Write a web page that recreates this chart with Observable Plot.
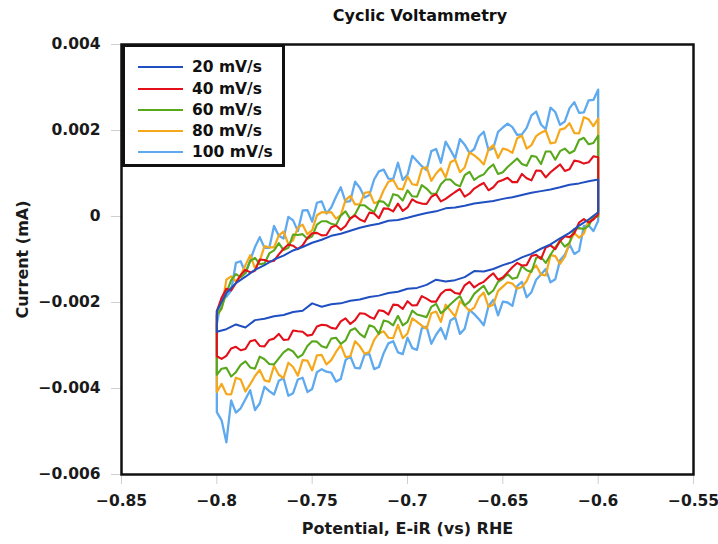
<!DOCTYPE html>
<html><head><meta charset="utf-8">
<script src="https://cdn.jsdelivr.net/npm/d3@7"></script>
<script src="https://cdn.jsdelivr.net/npm/@observablehq/plot@0.6"></script>
<style>
body{margin:0;background:#fff;font-family:"DejaVu Sans",sans-serif;}
#wrap{position:relative;width:718px;height:544px;overflow:hidden;}
#title{height:30px;line-height:32px;font-weight:bold;font-size:16px;text-align:center;padding-left:122px;color:#111;box-sizing:border-box;width:718px;}
#legend{position:absolute;left:122px;top:44px;width:163px;height:123px;border:3px solid #111;box-sizing:border-box;background:#fff;}
.row{position:absolute;left:13px;height:20px;display:flex;align-items:center;font-weight:bold;font-size:15.5px;color:#111;}
.row span.sw{display:inline-block;width:45px;height:0;border-top:2.5px solid;margin-right:9px;}
</style></head>
<body>
<div id="wrap">
<div id="title">Cyclic Voltammetry</div>
<div id="chart"></div>
<div id="legend"></div>
</div>
<script>
// Potential grid (V vs RHE): main points and the points midway between them
const potential = [-0.800,-0.795,-0.790,-0.785,-0.780,-0.775,-0.770,-0.765,-0.760,-0.755,-0.750,-0.745,-0.740,-0.735,-0.730,-0.725,-0.720,-0.715,-0.710,-0.705,-0.700,-0.695,-0.690,-0.685,-0.680,-0.675,-0.670,-0.665,-0.660,-0.655,-0.650,-0.645,-0.640,-0.635,-0.630,-0.625,-0.620,-0.615,-0.610,-0.605,-0.600];
const potentialMid = [-0.7975,-0.7925,-0.7875,-0.7825,-0.7775,-0.7725,-0.7675,-0.7625,-0.7575,-0.7525,-0.7475,-0.7425,-0.7375,-0.7325,-0.7275,-0.7225,-0.7175,-0.7125,-0.7075,-0.7025,-0.6975,-0.6925,-0.6875,-0.6825,-0.6775,-0.6725,-0.6675,-0.6625,-0.6575,-0.6525,-0.6475,-0.6425,-0.6375,-0.6325,-0.6275,-0.6225,-0.6175,-0.6125,-0.6075,-0.6025];

// Currents, in units of 1e-3 mA
const unit = 1e-3;
// 20 mV/s
const up20 = [-2.20,-1.78,-1.55,-1.40,-1.24,-1.13,-1.00,-0.91,-0.79,-0.71,-0.61,-0.54,-0.45,-0.40,-0.33,-0.26,-0.21,-0.17,-0.10,-0.08,-0.03,0.03,0.08,0.12,0.19,0.21,0.25,0.30,0.33,0.36,0.41,0.45,0.50,0.55,0.59,0.63,0.68,0.74,0.77,0.82,0.86];
const low20 = [-2.68,-2.62,-2.51,-2.58,-2.41,-2.38,-2.32,-2.29,-2.22,-2.19,-2.02,-2.10,-2.04,-2.02,-1.96,-1.93,-1.87,-1.84,-1.78,-1.75,-1.68,-1.66,-1.59,-1.47,-1.51,-1.48,-1.41,-1.27,-1.28,-1.22,-1.13,-1.06,-0.95,-0.87,-0.75,-0.65,-0.51,-0.38,-0.21,-0.07,0.10];
// 40 mV/s
const up40 = [-2.20,-1.68,-1.55,-1.24,-1.26,-1.01,-1.03,-0.75,-0.68,-0.67,-0.39,-0.44,-0.25,-0.31,-0.04,-0.07,0.09,-0.04,0.18,0.30,0.21,0.33,0.29,0.52,0.41,0.57,0.46,0.65,0.78,0.68,0.85,0.80,0.99,0.84,1.06,1.03,1.21,1.10,1.28,1.26,1.38];
const up40Mid = [-1.89,-1.72,-1.36,-1.30,-1.00,-1.05,-0.88,-0.65,-0.76,-0.50,-0.38,-0.43,-0.21,-0.22,0.02,-0.12,0.07,0.19,0.12,0.13,0.40,0.30,0.46,0.35,0.49,0.64,0.53,0.72,0.61,0.81,0.90,0.80,0.89,1.07,0.91,1.12,1.06,1.30,1.23,1.40];
const low40 = [-3.25,-3.24,-3.03,-3.08,-2.87,-3.02,-2.84,-2.87,-2.65,-2.68,-2.75,-2.52,-2.59,-2.44,-2.50,-2.25,-2.33,-2.18,-2.28,-2.06,-1.97,-2.06,-1.91,-1.98,-1.71,-1.78,-1.60,-1.65,-1.52,-1.32,-1.42,-1.18,-1.14,-0.92,-0.99,-0.67,-0.57,-0.48,-0.14,-0.14,0.05];
const low40Mid = [-3.31,-3.07,-3.11,-2.90,-3.01,-2.87,-2.73,-2.86,-2.67,-2.77,-2.56,-2.53,-2.61,-2.37,-2.41,-2.26,-2.38,-2.20,-2.05,-2.15,-2.07,-1.85,-1.98,-1.80,-1.70,-1.80,-1.52,-1.57,-1.41,-1.47,-1.30,-1.08,-1.13,-0.89,-0.72,-0.76,-0.46,-0.39,-0.06,-0.07];
// 60 mV/s
const up60 = [-2.30,-1.78,-1.34,-1.32,-0.96,-1.09,-0.79,-0.78,-0.42,-0.41,-0.46,-0.11,-0.17,0.02,-0.06,0.26,0.17,0.36,0.23,0.49,0.61,0.46,0.65,0.53,0.86,0.75,0.96,0.85,0.98,1.21,1.03,1.25,1.22,1.41,1.22,1.51,1.52,1.47,1.78,1.68,1.88];
const up60Mid = [-2.13,-1.48,-1.41,-1.04,-1.11,-0.86,-0.62,-0.73,-0.43,-0.52,-0.19,-0.11,-0.20,0.12,0.05,0.26,0.10,0.34,0.52,0.37,0.47,0.73,0.53,0.75,0.86,0.70,1.04,0.93,1.12,0.99,1.15,1.35,1.18,1.39,1.51,1.32,1.58,1.53,1.83,1.71];
const low60 = [-3.68,-3.52,-3.62,-3.37,-3.54,-3.32,-3.44,-3.16,-3.14,-3.21,-2.90,-3.02,-2.84,-2.96,-2.65,-2.73,-2.53,-2.73,-2.45,-2.31,-2.45,-2.28,-2.34,-2.03,-2.16,-1.94,-2.07,-1.80,-1.61,-1.72,-1.45,-1.45,-1.15,-1.29,-0.94,-0.89,-0.56,-0.61,-0.27,-0.22,0.00];
const low60Mid = [-3.54,-3.72,-3.45,-3.51,-3.26,-3.43,-3.30,-3.08,-3.28,-3.01,-2.91,-3.05,-2.82,-2.88,-2.60,-2.81,-2.57,-2.42,-2.53,-2.53,-2.19,-2.31,-2.10,-2.25,-2.04,-1.85,-1.98,-1.70,-1.81,-1.52,-1.34,-1.42,-1.25,-0.96,-1.08,-0.72,-0.70,-0.29,-0.29,0.00];
// 80 mV/s
const up80 = [-2.30,-1.47,-1.51,-1.13,-1.20,-0.69,-0.72,-0.35,-0.55,-0.19,-0.32,0.10,0.10,0.03,0.48,0.28,0.57,0.35,0.81,0.65,0.93,0.73,1.15,1.00,0.91,1.32,1.14,1.42,1.21,1.66,1.58,1.48,1.88,1.66,1.95,1.70,2.02,2.17,1.93,2.26,2.28];
const up80Mid = [-2.15,-1.39,-1.37,-0.90,-1.03,-0.72,-0.44,-0.64,-0.26,-0.41,0.03,0.09,-0.05,0.38,0.28,0.55,0.31,0.61,0.85,0.63,0.75,1.11,0.83,1.12,1.26,1.03,1.49,1.33,1.56,1.36,1.55,1.82,1.58,1.87,2.00,1.72,2.05,1.94,2.31,2.10];
const low80 = [-4.08,-4.13,-3.75,-4.07,-3.71,-3.81,-3.47,-3.76,-3.50,-3.34,-3.58,-3.22,-3.34,-2.99,-3.25,-3.02,-3.15,-2.72,-2.82,-2.52,-2.72,-2.45,-2.61,-2.21,-2.05,-2.33,-2.07,-2.12,-1.77,-2.05,-1.63,-1.56,-1.64,-1.25,-1.35,-0.90,-1.10,-0.60,-0.49,-0.09,0.00];
const low80Mid = [-3.89,-4.14,-3.79,-3.90,-3.57,-3.84,-3.68,-3.40,-3.70,-3.35,-3.23,-3.44,-3.15,-3.27,-2.90,-3.19,-2.87,-2.67,-2.83,-2.83,-2.37,-2.54,-2.25,-2.45,-2.19,-1.97,-2.20,-1.88,-2.10,-1.73,-1.53,-1.68,-1.50,-1.14,-1.37,-0.92,-0.94,-0.39,-0.40,0.00];
// 100 mV/s
const up100 = [-2.50,-1.87,-1.08,-1.31,-0.71,-0.73,-0.22,-0.51,-0.09,0.14,-0.12,0.35,0.21,0.68,0.36,0.67,0.50,1.05,0.88,1.25,0.97,1.29,1.08,1.57,1.74,1.35,1.67,1.57,1.97,1.59,2.07,2.08,1.91,2.35,2.14,2.53,2.13,2.52,2.41,2.70,2.95];
const up100Mid = [-1.90,-1.72,-1.04,-1.02,-0.48,-0.73,-0.45,-0.01,-0.34,0.15,0.32,0.07,0.46,0.34,0.81,0.44,0.86,1.09,0.87,0.85,1.41,1.17,1.52,1.25,1.55,1.80,1.48,1.86,1.54,1.97,2.16,1.90,2.06,2.44,2.03,2.43,2.21,2.66,2.42,2.71];
const low100 = [-4.55,-5.25,-4.56,-4.25,-4.50,-3.96,-4.14,-3.76,-4.11,-3.75,-4.01,-3.55,-3.63,-3.78,-3.25,-3.53,-3.20,-3.50,-2.95,-3.16,-2.82,-3.10,-2.56,-2.75,-2.85,-2.35,-2.61,-2.27,-2.53,-1.94,-1.98,-2.08,-1.52,-1.76,-1.35,-1.53,-1.02,-0.65,-0.80,-0.21,-0.10];
const low100Mid = [-4.74,-4.28,-4.46,-4.04,-4.35,-4.06,-3.82,-4.17,-3.79,-4.08,-3.62,-3.61,-3.84,-3.34,-3.52,-3.21,-3.55,-3.18,-2.90,-3.20,-3.06,-2.60,-2.96,-2.59,-2.42,-2.73,-2.17,-2.39,-2.08,-2.30,-2.00,-1.62,-1.88,-1.47,-1.22,-1.46,-0.89,-0.87,-0.22,-0.34];

const scanRates = ["20 mV/s","40 mV/s","60 mV/s","80 mV/s","100 mV/s"];
const colors = ["#1f4fc0","#e3101a","#58a81c","#f5a81c","#5fa9ee"];
const xTicks = [-0.85,-0.8,-0.75,-0.7,-0.65,-0.6,-0.55];
const yTicks = [-0.006,-0.004,-0.002,0,0.002,0.004];
const xTitle = "Potential, E-iR (vs) RHE";
const yTitle = "Current (mA)";

const branches = [
  [up20, null, low20, null],
  [up40, up40Mid, low40, low40Mid],
  [up60, up60Mid, low60, low60Mid],
  [up80, up80Mid, low80, low80Mid],
  [up100, up100Mid, low100, low100Mid]
];
function loop(name, up, upMid, low, lowMid) {
  const rows = [];
  const n = potential.length;
  for (let i = 0; i < n; i++) {
    rows.push({E: potential[i], I: up[i] * unit, s: name});
    if (upMid && i < n - 1) rows.push({E: potentialMid[i], I: upMid[i] * unit, s: name});
  }
  for (let i = n - 1; i >= 0; i--) {
    rows.push({E: potential[i], I: low[i] * unit, s: name});
    if (lowMid && i > 0) rows.push({E: potentialMid[i - 1], I: lowMid[i - 1] * unit, s: name});
  }
  rows.push({E: potential[0], I: up[0] * unit, s: name});
  return rows;
}
const widths = [2, 2.1, 2.1, 2.2, 2.3];
const lineMarks = [];
for (let k = scanRates.length - 1; k >= 0; k--) {
  const b = branches[k];
  lineMarks.push(Plot.line(loop(scanRates[k], b[0], b[1], b[2], b[3]),
    {x: "E", y: "I", stroke: colors[k], strokeWidth: widths[k], strokeLinejoin: "round"}));
}
const fmt = d => d === 0 ? "0" : (d < 0 ? "\u2212" : "") + String(Math.abs(d));

const chart = Plot.plot({
  width: 718, height: 514,
  marginTop: 14, marginLeft: 121, marginRight: 25, marginBottom: 70,
  x: {domain: [-0.85, -0.55]},
  y: {domain: [-0.006, 0.004]},
  style: {fontFamily: "'DejaVu Sans', sans-serif", fontWeight: "bold", fontSize: "15.5px", color: "#1a1a1a", background: "white"},
  marks: [
    Plot.axisX({ticks: xTicks, tickFormat: fmt, tickSize: 10, tickPadding: 10, stroke: "#cfcfcf", fill: "#1a1a1a", label: null, fontSize: 15.5}),
    Plot.axisY({ticks: yTicks, tickFormat: fmt, tickSize: 10, tickPadding: 11, stroke: "#cfcfcf", fill: "#1a1a1a", label: null, fontSize: 15.5}),
    ...lineMarks,
    Plot.frame({stroke: "#111", strokeWidth: 2.5}),
    Plot.text([xTitle], {text: d => d, frameAnchor: "bottom", dy: 54, lineAnchor: "middle", textAnchor: "middle", fontSize: 16}),
    Plot.text([yTitle], {text: d => d, frameAnchor: "left", dx: -99, rotate: -90, lineAnchor: "middle", textAnchor: "middle", fontSize: 16})
  ]
});
document.getElementById("chart").appendChild(chart);

const legend = document.getElementById("legend");
const rowTops = [10, 32, 53, 74, 95];
scanRates.forEach((name, k) => {
  const r = document.createElement("div");
  r.className = "row";
  r.style.top = rowTops[k] + "px";
  const sw = document.createElement("span");
  sw.className = "sw";
  sw.style.borderTopColor = colors[k];
  r.appendChild(sw);
  r.appendChild(document.createTextNode(name));
  legend.appendChild(r);
});
</script>
</body></html>
